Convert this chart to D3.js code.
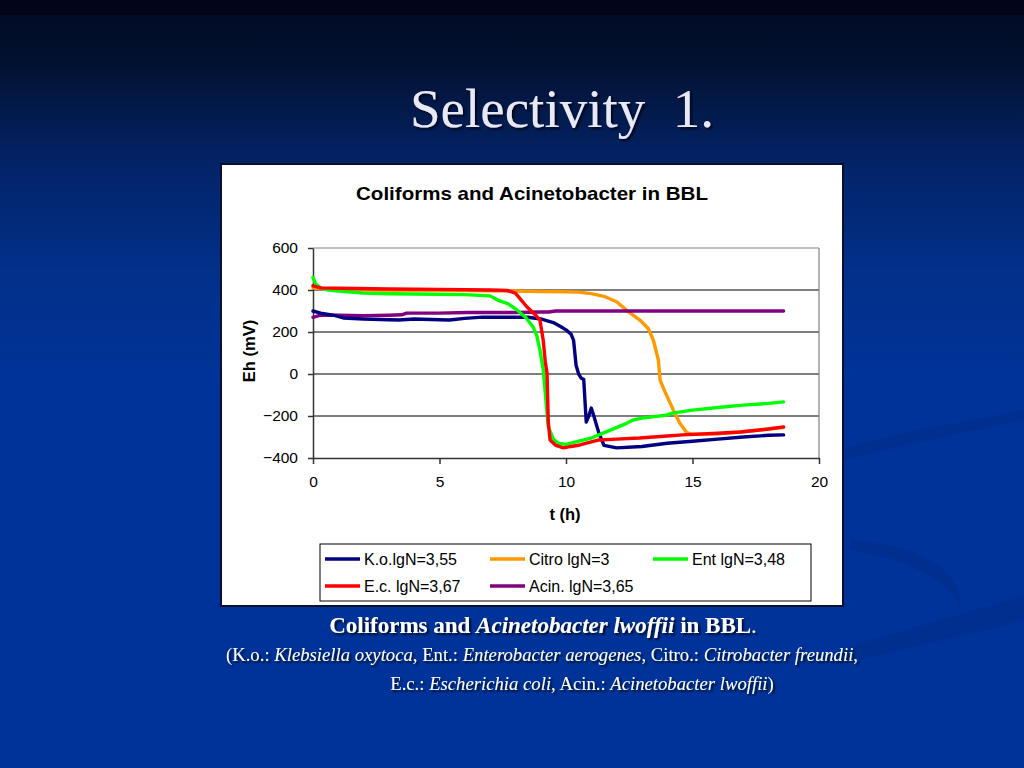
<!DOCTYPE html>
<html><head><meta charset="utf-8">
<script src="https://cdn.jsdelivr.net/npm/d3@7"></script>
<style>html,body{margin:0;padding:0;background:#003399;overflow:hidden}</style>
</head><body>
<svg id="c" width="1024" height="768"></svg>
<script>
// ---- data ----
const xTicks = [0, 5, 10, 15, 20];
const yTicks = [-400, -200, 0, 200, 400, 600];
const seriesNames = ["K.o.lgN=3,55", "Citro lgN=3", "Ent lgN=3,48", "E.c. lgN=3,67", "Acin. lgN=3,65"];
const seriesColors = ["#000080", "#FF9900", "#00FF00", "#FF0000", "#800080"];

const koT = [0,0.3,0.8,1.2,2,3,3.4,4,5,5.4,6,6.7,7.5,8.5,9,9.5,9.8,10,10.2,10.3,10.4,10.5,10.6,10.7,10.8,10.9,11.0,11.1,11.3,11.5,12,13,14,15,16,17,18,18.6];
const koV = [300,290,280,267,262,258,257,262,258,257,265,271,270,270,262,245,225,210,190,160,40,0,-20,-25,-229,-200,-162,-200,-281,-340,-352,-345,-330,-320,-310,-300,-292,-290];

const citroT = [0,0.5,2,5,8,9,10,10.5,11,11.5,12,12.46,12.92,13.25,13.45,13.65,13.72,13.91,14.24,14.5,14.77,15,16,17,18,18.6];
const citroV = [410,405,400,398,395,393,392,390,383,370,344,297,257,217,162,67,-29,-84,-171,-235,-279,-287,-285,-275,-262,-255];

const entT = [0,0.1,0.3,0.6,1,2,3,5,6,7,7.3,7.7,8.06,8.4,8.7,8.85,8.97,9.1,9.17,9.3,9.5,9.7,10,10.5,11,11.3,11.8,12.3,12.65,13,14,14.2,15,16.2,17,18,18.6];
const entV = [460,430,410,400,395,385,382,380,378,372,352,335,305,270,224,180,114,20,-76,-252,-310,-330,-335,-320,-305,-290,-265,-240,-219,-210,-195,-186,-172,-157,-148,-140,-133];

const ecT = [0,0.3,1,3,5,7,7.67,8,8.46,8.8,8.97,9.1,9.18,9.25,9.3,9.37,9.6,9.9,10.2,10.55,11.3,12,12.9,14,14.6,16,16.9,18,18.6];
const ecV = [420,410,408,405,403,400,398,385,319,280,257,160,60,5,-229,-314,-340,-352,-345,-338,-314,-310,-305,-295,-290,-282,-276,-262,-252];

const acinT = [0,0.3,1,2,3,3.5,3.7,5,6.1,7,8,9,9.3,9.6,10,12,15,18.6];
const acinV = [270,280,280,278,280,282,290,290,293,293,293,295,295,300,300,300,300,300];

const seriesT = [koT, citroT, entT, ecT, acinT];
const seriesV = [koV, citroV, entV, ecV, acinV];
const drawOrder = [1, 4, 0, 2, 3];

// ---- drawing ----
const svg = d3.select("#c");
const defs = svg.append("defs");
const bg = defs.append("linearGradient").attr("id","bg").attr("x1",0).attr("y1",0).attr("x2",0).attr("y2",1);
bg.append("stop").attr("offset","0").attr("stop-color","#010a22");
bg.append("stop").attr("offset","0.08").attr("stop-color","#02112f");
bg.append("stop").attr("offset","0.2").attr("stop-color","#032263");
bg.append("stop").attr("offset","0.35").attr("stop-color","#02308a");
bg.append("stop").attr("offset","0.5").attr("stop-color","#003399");
bg.append("stop").attr("offset","1").attr("stop-color","#003399");
const sh = defs.append("filter").attr("id","shadow").attr("x","-5%").attr("y","-20%").attr("width","110%").attr("height","150%");
sh.append("feDropShadow").attr("dx",2).attr("dy",2).attr("stdDeviation",1).attr("flood-color","#000010").attr("flood-opacity",0.8);

svg.append("rect").attr("width",1024).attr("height",768).attr("fill","url(#bg)");
svg.append("rect").attr("width",1024).attr("height",15).attr("fill","#02041a");
// decorative swooshes
svg.append("path").attr("d","M840,450 C900,430 980,420 1024,410 L1024,420 C980,430 900,445 840,462 Z")
  .attr("fill","#002a80").attr("opacity",0.4);
svg.append("path").attr("d","M850,540 C920,545 965,570 960,610 C958,590 920,560 850,550 Z")
  .attr("fill","#002a80").attr("opacity",0.4);
svg.append("path").attr("d","M840,650 C900,630 980,610 1024,595 L1024,620 C980,632 900,650 840,665 Z")
  .attr("fill","#002a80").attr("opacity",0.4);

// slide title
svg.append("text").attr("x",562).attr("y",127).attr("text-anchor","middle")
  .attr("font-family","'Liberation Serif','DejaVu Serif',serif").attr("font-size",55)
  .attr("fill","#e8e8f6").attr("filter","url(#shadow)").attr("xml:space","preserve")
  .text("Selectivity  1.");

// chart box
svg.append("rect").attr("x",221).attr("y",164).attr("width",622).attr("height",442)
  .attr("fill","#ffffff").attr("stroke","#0a0f30").attr("stroke-width",2);

const font = "'Liberation Sans',Arial,sans-serif";
svg.append("text").attr("x",532).attr("y",200).attr("text-anchor","middle")
  .attr("font-family",font).attr("font-weight","bold").attr("font-size",19).attr("fill","#000")
  .attr("textLength",352).attr("lengthAdjust","spacingAndGlyphs")
  .text("Coliforms and Acinetobacter in BBL");

const x = d3.scaleLinear().domain([0,20]).range([313,819]);
const y = d3.scaleLinear().domain([-400,600]).range([458,248]);

// grid
svg.append("g").selectAll("line").data(yTicks.filter(v=>v>-400)).join("line")
  .attr("x1",x(0)).attr("x2",x(20)).attr("y1",d=>y(d)).attr("y2",d=>y(d))
  .attr("stroke",d=>d===600?"#808080":"#000").attr("stroke-width",1.2);
svg.append("line").attr("x1",x(20)).attr("x2",x(20)).attr("y1",y(600)).attr("y2",y(-400))
  .attr("stroke","#808080").attr("stroke-width",1.2);

// axes
const yAxis = svg.append("g").attr("transform",`translate(${x(0)},0)`)
  .call(d3.axisLeft(y).tickValues(yTicks).tickSize(5).tickPadding(10).tickSizeOuter(0));
const xAxis = svg.append("g").attr("transform",`translate(0,${y(-400)})`)
  .call(d3.axisBottom(x).tickValues(xTicks).tickSize(6).tickPadding(12).tickSizeOuter(0));
[yAxis,xAxis].forEach(a=>{
  a.select(".domain").attr("stroke","#333").attr("stroke-width",1.5);
  a.selectAll(".tick line").attr("stroke","#333").attr("stroke-width",1.5);
  a.selectAll("text").attr("font-family",font).attr("font-size",15.5).attr("fill","#000");
});

svg.append("text").attr("transform","translate(255,351) rotate(-90)").attr("text-anchor","middle")
  .attr("font-family",font).attr("font-weight","bold").attr("font-size",16.5).text("Eh (mV)");
svg.append("text").attr("x",565).attr("y",520).attr("text-anchor","middle")
  .attr("font-family",font).attr("font-weight","bold").attr("font-size",16.5).text("t (h)");

// series
const line = d3.line().x(d=>x(d[0])).y(d=>y(d[1]));
const gS = svg.append("g");
drawOrder.forEach(i=>{
  const pts = seriesT[i].map((t,k)=>[t, seriesV[i][k]]);
  gS.append("path").attr("d",line(pts)).attr("fill","none")
    .attr("stroke",seriesColors[i]).attr("stroke-width",3.4)
    .attr("stroke-linejoin","round").attr("stroke-linecap","round");
});

// legend
svg.append("rect").attr("x",320).attr("y",544).attr("width",491).attr("height",57)
  .attr("fill","#fff").attr("stroke","#000").attr("stroke-width",1);
const legPos = [[325,559],[490,559],[653,559],[325,586],[490,586]];
seriesNames.forEach((n,i)=>{
  const [lx,ly] = legPos[i];
  svg.append("line").attr("x1",lx).attr("x2",lx+35).attr("y1",ly).attr("y2",ly)
    .attr("stroke",seriesColors[i]).attr("stroke-width",3.5);
  svg.append("text").attr("x",lx+39).attr("y",ly+5.5).attr("font-family",font).attr("font-size",16)
    .attr("fill","#000").text(n);
});

// caption
const serif = "'Liberation Serif','DejaVu Serif',serif";
const cap = svg.append("g").attr("font-family",serif).attr("fill","#ffffff").attr("filter","url(#shadow)");
const c1 = cap.append("text").attr("x",543).attr("y",633).attr("text-anchor","middle").attr("font-size",23).attr("font-weight","bold");
c1.append("tspan").text("Coliforms and ");
c1.append("tspan").attr("font-style","italic").text("Acinetobacter lwoffii");
c1.append("tspan").text(" in BBL");
c1.append("tspan").attr("font-weight","normal").text(".");
const c2 = cap.append("text").attr("x",542).attr("y",661).attr("text-anchor","middle").attr("font-size",18.7);
[["(K.o.: ",0],["Klebsiella oxytoca",1],[", Ent.: ",0],["Enterobacter aerogenes",1],[", Citro.: ",0],["Citrobacter freundii",1],[",",0]]
  .forEach(([t,it])=>c2.append("tspan").attr("font-style",it?"italic":"normal").text(t));
const c3 = cap.append("text").attr("x",582).attr("y",690).attr("text-anchor","middle").attr("font-size",18.7);
[["E.c.: ",0],["Escherichia coli",1],[", Acin.: ",0],["Acinetobacter lwoffii",1],[")",0]]
  .forEach(([t,it])=>c3.append("tspan").attr("font-style",it?"italic":"normal").text(t));
</script>
</body></html>
